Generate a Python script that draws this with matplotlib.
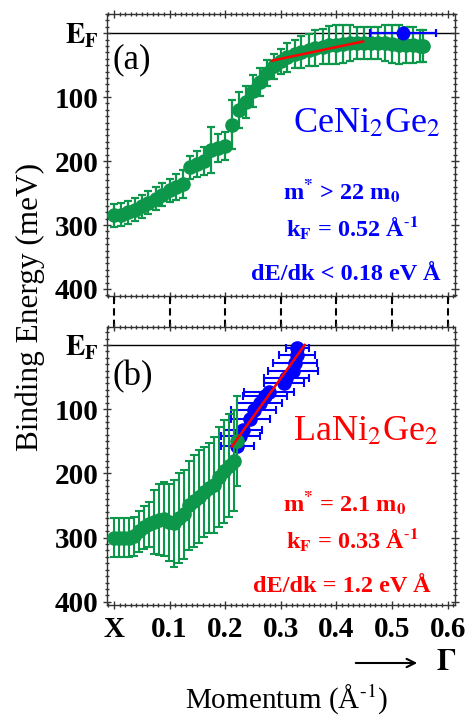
import numpy as np
import matplotlib
matplotlib.use('Agg')
from matplotlib import pyplot as plt
from matplotlib.ticker import MultipleLocator, FixedLocator

plt.rcParams['font.family'] = 'serif'
plt.rcParams['font.serif'] = ['Liberation Serif', 'DejaVu Serif']
plt.rcParams['mathtext.fontset'] = 'stix'

# ---- data : CeNi2Ge2 (panel a) ----
k_ce = [0.000, 0.012, 0.025, 0.037, 0.050, 0.062, 0.075, 0.087, 0.100, 0.112,
        0.125, 0.137, 0.150, 0.162, 0.175, 0.187, 0.200, 0.212, 0.225, 0.237,
        0.250, 0.262, 0.275, 0.287, 0.300, 0.312, 0.325, 0.337, 0.350, 0.362,
        0.375, 0.387, 0.400, 0.412, 0.425, 0.437, 0.450, 0.462, 0.475, 0.487,
        0.500, 0.512, 0.525, 0.537, 0.550, 0.556]
e_ce = [285, 284, 280, 276, 271, 265, 259, 253, 246, 241,
        236, 210, 205, 200, 182, 179, 176, 143, 120, 108,
        90, 76, 62, 52, 44, 38, 33, 29, 26, 23,
        21, 19, 18, 17, 16, 15, 15, 15, 15, 16,
        17, 18, 18, 19, 20, 20]
err_ce = [18, 18, 18, 18, 18, 18, 18, 18, 18, 20,
          22, 18, 20, 22, 36, 22, 22, 38, 28, 25,
          25, 22, 20, 20, 20, 22, 22, 25, 25, 28,
          28, 30, 30, 30, 28, 25, 25, 25, 25, 28,
          30, 30, 28, 28, 25, 25]
k_ce_f = [0.52]
e_ce_f = [0]
kerr_ce_f = [0.06]
fit_ce_k = [0.284, 0.448]
fit_ce_e = [43, 13]

# ---- data : LaNi2Ge2 (panel b) ----
k_la = [0.000, 0.009, 0.018, 0.027, 0.036, 0.045, 0.054, 0.063, 0.072, 0.081,
        0.090, 0.099, 0.108, 0.117, 0.126, 0.135, 0.144, 0.153, 0.162, 0.171,
        0.180, 0.189, 0.198, 0.207, 0.216, 0.222]
e_la = [300, 300, 300, 300, 298, 290, 284, 279, 276, 272,
        271, 276, 278, 270, 264, 250, 243, 236, 229, 223,
        218, 205, 197, 188, 180, 150]
err_la = [30, 30, 30, 30, 30, 32, 33, 35, 50, 55,
          57, 60, 68, 70, 70, 70, 72, 72, 70, 70,
          75, 78, 80, 80, 78, 70]
k_la_b = [0.222, 0.227, 0.232, 0.245, 0.251, 0.262, 0.272, 0.278,
          0.305, 0.310, 0.322, 0.326, 0.329, 0.330]
e_la_b = [158, 142, 133, 115, 102, 90, 80, 73, 60, 52, 40, 28, 16, 4]
kerr_la_b = [0.03, 0.035, 0.035, 0.035, 0.04, 0.04, 0.04, 0.045,
             0.036, 0.04, 0.045, 0.04, 0.032, 0.02]
fit_la_k = [0.212, 0.343]
fit_la_e = [158, 0]

xt = [0, 0.1, 0.2, 0.3, 0.4, 0.5, 0.6]
xt_lab = ['X', '0.1', '0.2', '0.3', '0.4', '0.5', '0.6']
yt = [0, 100, 200, 300, 400]
yt_lab = [r'$\mathbf{E_F}$', '100', '200', '300', '400']

green = '#0c974a'
blue = '#0000ff'
red = '#ff0000'

fig = plt.figure(figsize=(4.67, 7.2), dpi=100)
ax1 = fig.add_axes([0.2291, 0.5889, 0.7452, 0.3917])
axm = fig.add_axes([0.2291, 0.5463, 0.7452, 0.0426])
ax2 = fig.add_axes([0.2291, 0.1597, 0.7452, 0.3866])


def style(ax, ylim, xlabels):
    ax.set_xlim(-0.0126, 0.6133)
    ax.set_ylim(*ylim)
    ax.axhline(0, color='black', lw=1.0, zorder=1)
    ax.xaxis.set_major_locator(FixedLocator(xt))
    ax.xaxis.set_minor_locator(MultipleLocator(0.01))
    ax.yaxis.set_major_locator(FixedLocator(yt))
    ax.yaxis.set_minor_locator(MultipleLocator(10))
    ax.set_yticklabels(yt_lab)
    if xlabels:
        ax.set_xticklabels(xt_lab)
    else:
        ax.set_xticklabels([])
    ax.tick_params(which='both', direction='inout', top=True, right=True,
                   width=1.0, color='#333333')
    ax.tick_params(which='major', length=6)
    ax.tick_params(which='minor', length=3.5)
    ax.tick_params(axis='y', which='major', pad=3)
    ax.tick_params(axis='x', which='major', pad=5)
    for lab in ax.get_xticklabels() + ax.get_yticklabels():
        lab.set_fontsize(21)
        lab.set_fontweight('bold')
    for s in ax.spines.values():
        s.set_linewidth(1.0)
        s.set_color('#333333')


# panel a
ax1.errorbar(k_ce, e_ce, yerr=err_ce, fmt='o', color=green, ms=9.5, elinewidth=1.6,
             capsize=3, capthick=1.6, zorder=3)
ax1.errorbar(k_ce_f, e_ce_f, xerr=kerr_ce_f, fmt='o', color=blue, ms=9,
             elinewidth=1.6, capsize=3, capthick=1.6, zorder=4)
ax1.plot(fit_ce_k, fit_ce_e, color=red, lw=1.8, zorder=5)
style(ax1, (411, -30), False)
ax1.text(0.017, 0.837, '(a)', transform=ax1.transAxes, fontsize=25, va='center', ha='left')
ax1.text(0.747, 0.582, r'CeNi$_2$Ge$_2$', transform=ax1.transAxes, fontsize=26,
         color=blue, ha='center', va='baseline')
ax1.text(0.675, 0.340, r'm$^{\mathbf{*}}$ > 22 m$_{\mathbf{0}}$', transform=ax1.transAxes,
         fontsize=17.5, fontweight='bold', color=blue, ha='center', va='baseline')
ax1.text(0.704, 0.209, r'k$_{\mathbf{F}}$ = 0.52 Å$^{\mathbf{\text{-}1}}$', transform=ax1.transAxes,
         fontsize=17.5, fontweight='bold', color=blue, ha='center', va='baseline')
ax1.text(0.687, 0.057, 'dE/dk < 0.18 eV Å', transform=ax1.transAxes,
         fontsize=17.5, fontweight='bold', color=blue, ha='center', va='baseline')

# dashed connectors
axm.set_xlim(-0.0126, 0.6133)
axm.set_ylim(0, 1)
axm.vlines(xt, 0, 1, colors='black', linestyles=(0, (3.5, 2)), lw=1.5)
axm.axis('off')

# panel b
ax2.errorbar(k_la_b, e_la_b, xerr=kerr_la_b, fmt='o', color=blue, ms=9.5,
             elinewidth=1.5, capsize=3, capthick=1.5, zorder=3)
ax2.errorbar(k_la, e_la, yerr=err_la, fmt='o', color=green, ms=9.5, elinewidth=1.5,
             capsize=3, capthick=1.5, zorder=4)
ax2.plot(fit_la_k, fit_la_e, color=red, lw=1.8, zorder=5)
style(ax2, (405, -28.5), True)
ax2.text(0.017, 0.819, '(b)', transform=ax2.transAxes, fontsize=25, va='center', ha='left')
ax2.text(0.744, 0.593, r'LaNi$_2$Ge$_2$', transform=ax2.transAxes, fontsize=26,
         color=red, ha='center', va='baseline')
ax2.text(0.684, 0.335, r'm$^{\mathbf{*}}$ = 2.1 m$_{\mathbf{0}}$', transform=ax2.transAxes,
         fontsize=17.5, fontweight='bold', color=red, ha='center', va='baseline')
ax2.text(0.704, 0.204, r'k$_{\mathbf{F}}$ = 0.33 Å$^{\mathbf{\text{-}1}}$', transform=ax2.transAxes,
         fontsize=17.5, fontweight='bold', color=red, ha='center', va='baseline')
ax2.text(0.675, 0.048, 'dE/dk = 1.2 eV Å', transform=ax2.transAxes,
         fontsize=17.5, fontweight='bold', color=red, ha='center', va='baseline')

# axis labels
fig.text(30 / 467, 1 - 307 / 720, 'Binding Energy (meV)', rotation=90,
         fontsize=22.5, ha='center', va='center')
fig.text(287 / 467, 1 - 700 / 720, r'Momentum (Å$^{\text{-}1}$)', fontsize=21,
         ha='center', va='center')
fig.add_artist(matplotlib.patches.FancyArrowPatch(
    (353 / 467, 1 - 663 / 720), (420 / 467, 1 - 663 / 720),
    transform=fig.transFigure, arrowstyle='->,head_length=6,head_width=3',
    lw=1.5, color='black'))
fig.text(446 / 467, 1 - 663 / 720, r'$\mathbf{\Gamma}$', fontsize=22,
         ha='center', va='center')

fig.savefig('out.png', dpi=100)
